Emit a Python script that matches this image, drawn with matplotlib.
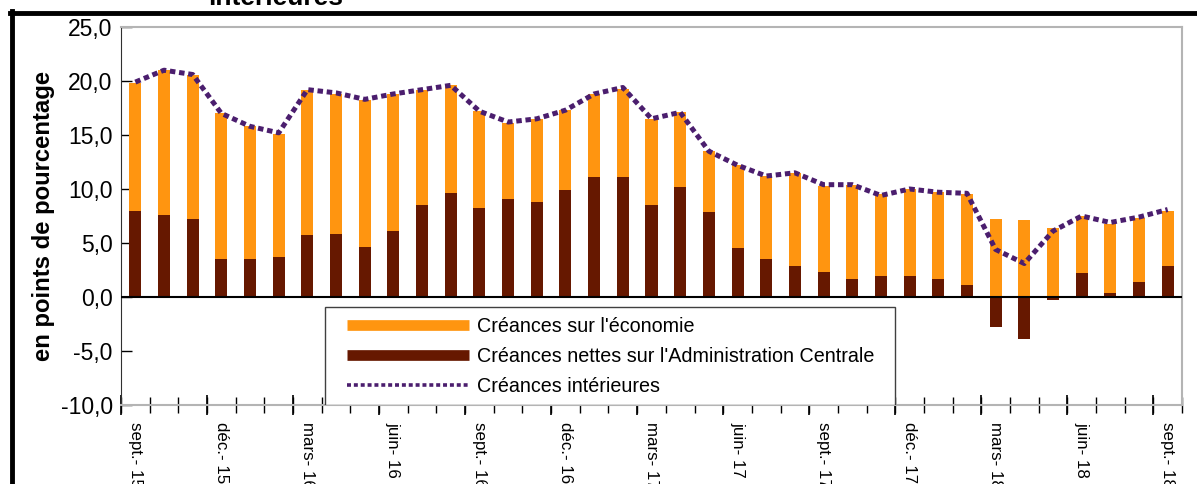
import matplotlib.pyplot as plt
from matplotlib.lines import Line2D
from matplotlib.patches import Rectangle

plt.rcParams['font.family'] = ['Liberation Sans', 'DejaVu Sans']

# Monthly observations, sept. 2015 -> sept. 2018
months = ['sept.- 15', 'oct.- 15', 'nov.- 15', 'déc.- 15', 'janv.- 16', 'févr.- 16',
          'mars- 16', 'avr.- 16', 'mai- 16', 'juin- 16', 'juil.- 16', 'août- 16',
          'sept.- 16', 'oct.- 16', 'nov.- 16', 'déc.- 16', 'janv.- 17', 'févr.- 17',
          'mars- 17', 'avr.- 17', 'mai- 17', 'juin- 17', 'juil.- 17', 'août- 17',
          'sept.- 17', 'oct.- 17', 'nov.- 17', 'déc.- 17', 'janv.- 18', 'févr.- 18',
          'mars- 18', 'avr.- 18', 'mai- 18', 'juin- 18', 'juil.- 18', 'août- 18',
          'sept.- 18']

# contributions (en points de pourcentage)
economie = [11.8, 13.4, 13.4, 13.5, 12.3, 11.4, 13.5, 13.0, 13.6, 12.7, 10.7, 10.0,
            9.0, 7.0, 7.7, 7.4, 7.7, 8.2, 8.0, 6.9, 5.6, 7.7, 7.7, 8.6,
            8.0, 8.7, 7.6, 8.1, 8.0, 8.4, 7.2, 7.1, 6.4, 5.3, 6.4, 5.9, 5.1]
administration = [8.0, 7.6, 7.2, 3.5, 3.5, 3.7, 5.7, 5.8, 4.6, 6.1, 8.5, 9.6,
                  8.2, 9.1, 8.8, 9.9, 11.1, 11.1, 8.5, 10.2, 7.9, 4.5, 3.5, 2.9,
                  2.3, 1.7, 1.9, 1.9, 1.7, 1.1, -2.8, -3.9, -0.3, 2.2, 0.4, 1.4, 2.9]
interieures = [19.9, 21.0, 20.6, 17.0, 15.8, 15.2, 19.2, 18.9, 18.3, 18.8, 19.2, 19.6,
               17.2, 16.2, 16.5, 17.3, 18.8, 19.4, 16.5, 17.1, 13.5, 12.2, 11.2, 11.5,
               10.4, 10.4, 9.4, 10.0, 9.7, 9.6, 4.4, 3.1, 6.1, 7.5, 6.9, 7.4, 8.1]

orange = '#ff9510'
brun = '#661800'
violet = '#4b1e6e'

fig = plt.figure(figsize=(11.97, 4.84), dpi=100)
ax = fig.add_axes([121 / 1197, 1 - 405 / 484, 1061 / 1197, 378 / 484])

x = list(range(len(months)))
w = 0.42
ax.bar(x, administration, w, color=brun, zorder=2)
ax.bar(x, economie, w, bottom=[max(a, 0) for a in administration], color=orange, zorder=2)
ax.axhline(0, color='black', lw=1.5, zorder=3)
ax.plot(x, interieures, color=violet, lw=3.6, dashes=(1.1, 0.75), zorder=4)

ax.set_xlim(-0.5, len(months) - 0.5)
ax.set_ylim(-10, 25)
ax.set_yticks(range(-10, 26, 5))
ax.set_yticklabels([f'{v},0' for v in range(-10, 26, 5)], fontsize=16.5)
ax.tick_params(axis='y', direction='in', length=8, width=1, pad=6)

# labels every quarter, ticks on the bar boundaries
ax.set_xticks(x[::3])
ax.set_xticklabels(months[::3], rotation=-90, fontsize=12.2, va='top', ha='center')
ax.tick_params(axis='x', which='major', length=0, pad=12)
ax.set_xticks([i - 0.5 for i in range(len(months) + 1)], minor=True)
ax.tick_params(axis='x', which='minor', direction='inout', length=11, width=1)
sec = ax.secondary_xaxis('bottom')
sec.set_xticks([i - 0.5 for i in range(0, len(months) + 1, 3)])
sec.tick_params(axis='x', direction='inout', length=14, width=1.2, labelbottom=False)
sec.spines['bottom'].set_visible(False)

for s in ['top', 'right', 'bottom']:
    ax.spines[s].set_color('#b4b4b4')
    ax.spines[s].set_linewidth(1.5)
ax.spines['left'].set_color('#303030')

ax.set_ylabel('en points de pourcentage', fontsize=17.2, fontweight='bold')
ax.yaxis.set_label_coords(-0.062, 0.5)

# legend in a framed box sitting on the bottom axis
ax.add_patch(Rectangle((0.1923, 0), 0.5372, 0.2593, transform=ax.transAxes,
                       facecolor='white', edgecolor='#404040', lw=1, zorder=5))
handles = [Line2D([], [], color=orange, lw=7.7, solid_capstyle='butt'),
           Line2D([], [], color=brun, lw=7.7, solid_capstyle='butt'),
           Line2D([], [], color=violet, lw=2.6, dashes=(1.1, 0.8))]
labels = ["Créances sur l'économie",
          "Créances nettes sur l'Administration Centrale",
          'Créances intérieures']
leg = ax.legend(handles, labels, loc='upper left', bbox_to_anchor=(0.2130, 0.2336),
                frameon=False, fontsize=14.2, handlelength=6.2, handletextpad=0.4,
                labelspacing=0.57, borderpad=0, borderaxespad=0)
leg.set_zorder(6)

# outer frame and clipped title
fig.add_artist(Line2D([10 / 1197, 1], [1 - 12.5 / 484] * 2, color='black', lw=3.5))
fig.add_artist(Line2D([11.5 / 1197] * 2, [0, 1 - 11 / 484], color='black', lw=3.5))
fig.text(208 / 1197, 1 - 5 / 484, 'intérieures', fontsize=19, fontweight='bold',
         va='baseline', ha='left')

fig.savefig('out.png', dpi=100)
